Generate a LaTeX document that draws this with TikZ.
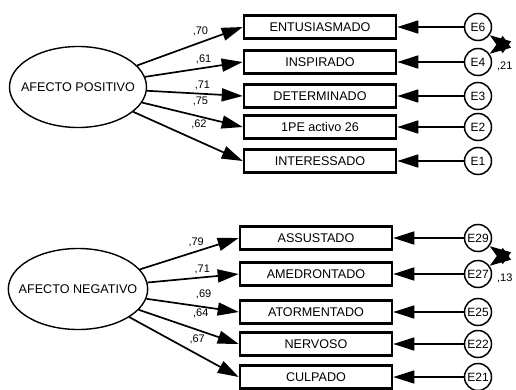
\documentclass[tikz,border=0pt]{standalone}
\usepackage{fontspec}
\setmainfont{Liberation Sans}
\usepackage{tikz}
\usetikzlibrary{shapes.geometric, positioning, arrows.meta}

\begin{document}
\begin{tikzpicture}[x=1pt, y=1pt, line width=1.7pt,
    every edge/.style={draw, -{Triangle[length=21pt,width=13pt]}},
    every node/.style={font=\fontsize{12.6}{14}\selectfont},
    item/.style={draw, rectangle, line width=2.6pt, minimum width=152pt,
      minimum height=23pt, inner sep=0pt},
    latent/.style={draw, ellipse, line width=1.4pt, minimum width=137pt,
      minimum height=81pt, inner xsep=-10pt, inner ysep=0pt},
    err/.style={draw, circle, line width=1.5pt, minimum size=27pt,
      inner sep=0pt, font=\fontsize{12}{13}\selectfont},
    load/.style={font=\fontsize{11}{12}\selectfont, inner sep=1pt},
    cov/.style={{Triangle[length=21pt,width=14pt]}-{Triangle[length=21pt,width=14pt]},
      out=-35, in=35, looseness=3}]

  \useasboundingbox (0,0) rectangle (516,389);

  % Positive affect
  \node[latent] (ap) at (78,302) {AFECTO POSITIVO};

  \node[item] (entus)  at (320,362) {ENTUSIASMADO};
  \node[item] (inspir) at (320,327) {INSPIRADO};
  \node[item] (determ) at (320,293) {DETERMINADO};
  \node[item] (activo) at (320,262) {1PE activo 26};
  \node[item] (intere) at (320,228) {INTERESSADO};

  \node[err] (e6) at (478,362) {E6};
  \node[err] (e4) at (478,327) {E4};
  \node[err] (e3) at (478,293) {E3};
  \node[err] (e2) at (478,262) {E2};
  \node[err] (e1) at (478,228) {E1};

  \path (ap) edge node[load, pos=0.6, above=5pt] {,70} (entus.west)
        (ap) edge node[load, pos=0.6, above=2pt] {,61} (inspir.west)
        (ap) edge node[load, pos=0.58, above=2pt] {,71} (determ.west)
        (ap) edge node[load, pos=0.58, above=9pt] {,75} (activo.west)
        (ap) edge node[load, pos=0.6, above=11pt] {,62} (intere.west);

  \path (e6) edge (entus)
        (e4) edge (inspir)
        (e3) edge (determ)
        (e2) edge (activo)
        (e1) edge (intere);

  \path (e6) edge[cov] (e4);
  \node[load, anchor=west] at ([shift={(3pt,-4pt)}]e4.east) {,21};

  % Negative affect
  \node[latent] (an) at (78,100) {AFECTO NEGATIVO};

  \node[item] (assust) at (316,151) {ASSUSTADO};
  \node[item] (amedro) at (316,115) {AMEDRONTADO};
  \node[item] (atorme) at (316,77)  {ATORMENTADO};
  \node[item] (nervos) at (316,45)  {NERVOSO};
  \node[item] (culpad) at (316,12)  {CULPADO};

  \node[err] (e29) at (478,151) {E29};
  \node[err] (e27) at (478,115) {E27};
  \node[err] (e25) at (478,77)  {E25};
  \node[err] (e22) at (478,45)  {E22};
  \node[err] (e21) at (478,12)  {E21};

  \path (an) edge node[load, pos=0.57, above=3pt] {,79} (assust.west)
        (an) edge node[load, pos=0.6, above=2pt] {,71} (amedro.west)
        (an) edge node[load, pos=0.62, above=6pt] {,69} (atorme.west)
        (an) edge node[load, pos=0.62, above=11pt] {,64} (nervos.west)
        (an) edge node[load, pos=0.62, above=9pt] {,67} (culpad.west);

  \path (e29) edge (assust)
        (e27) edge (amedro)
        (e25) edge (atorme)
        (e22) edge (nervos)
        (e21) edge (culpad);

  \path (e29) edge[cov] (e27);
  \node[load, anchor=west] at ([shift={(3pt,-4pt)}]e27.east) {,13};

\end{tikzpicture}
\end{document}
